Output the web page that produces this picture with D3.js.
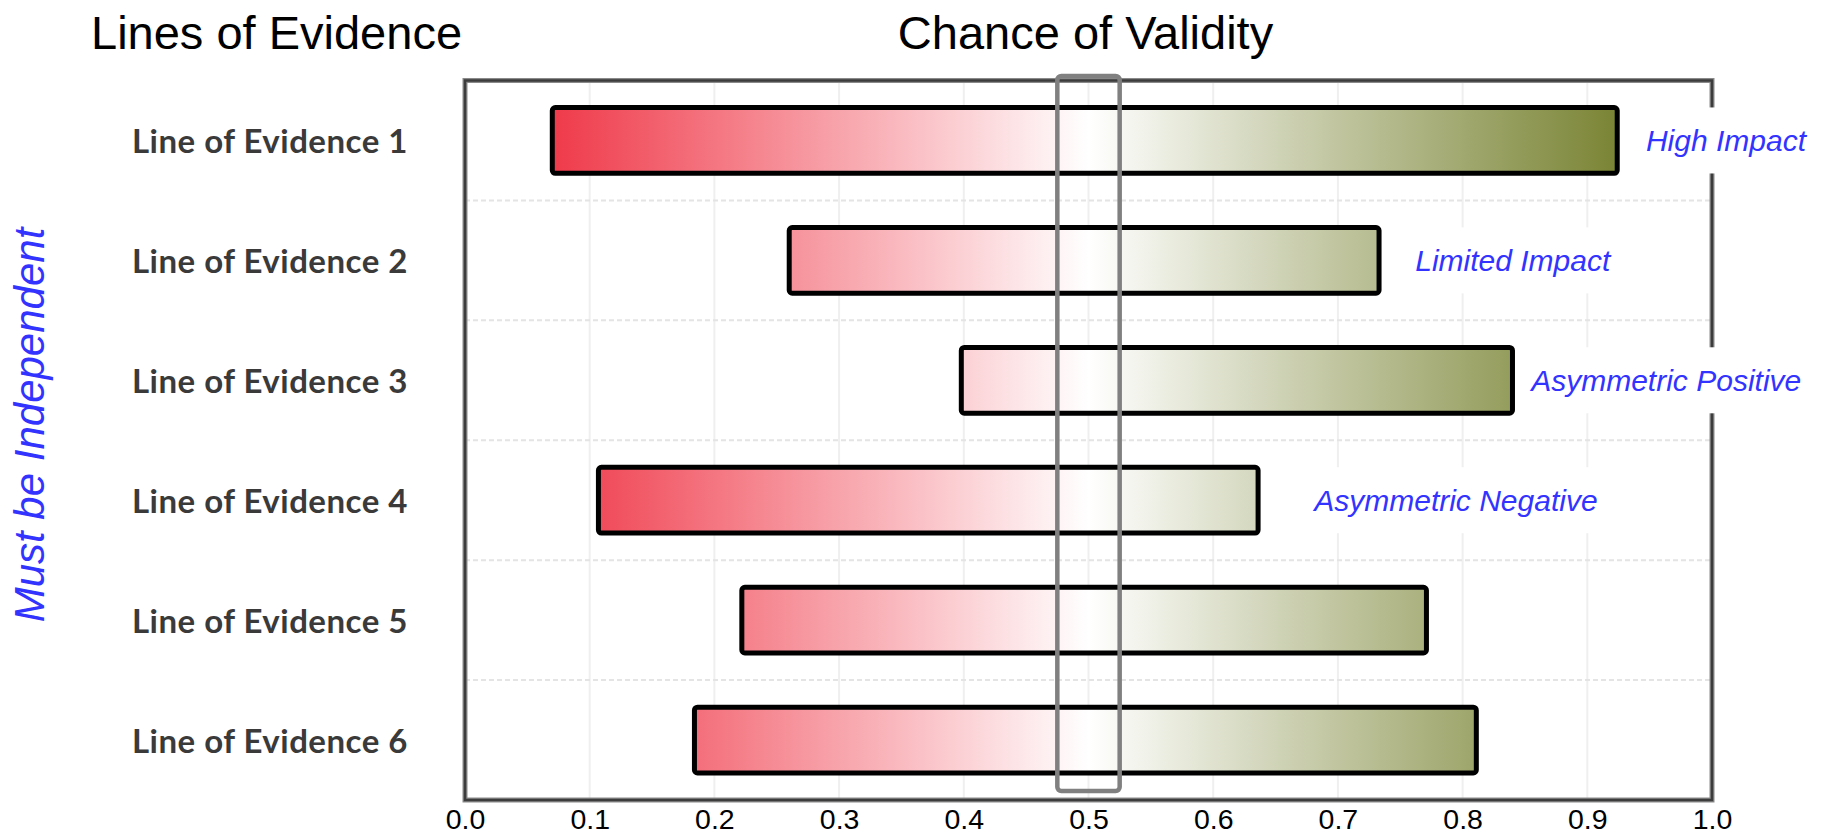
<!DOCTYPE html>
<html>
<head>
<meta charset="utf-8">
<script src="https://cdn.jsdelivr.net/npm/d3@7/dist/d3.min.js"></script>
<style>
  html, body { margin: 0; padding: 0; background: #ffffff; }
  svg { display: block; }
</style>
</head>
<body>
<svg id="chart" width="1828" height="835"></svg>
<script>
// ---- data ----
const categories = ["Line of Evidence 1", "Line of Evidence 2", "Line of Evidence 3",
                    "Line of Evidence 4", "Line of Evidence 5", "Line of Evidence 6"];
const lowValues  = [0.070, 0.260, 0.398, 0.107, 0.222, 0.184];
const highValues = [0.924, 0.733, 0.840, 0.636, 0.771, 0.811];
const xTicks      = [0.0, 0.1, 0.2, 0.3, 0.4, 0.5, 0.6, 0.7, 0.8, 0.9, 1.0];
const xTickLabels = ["0.0", "0.1", "0.2", "0.3", "0.4", "0.5", "0.6", "0.7", "0.8", "0.9", "1.0"];
const annotationTexts = ["High Impact", "Limited Impact", "Asymmetric Positive", "Asymmetric Negative"];
const annotationRows  = ["Line of Evidence 1", "Line of Evidence 2", "Line of Evidence 3", "Line of Evidence 4"];
const annotationX     = [0.947, 0.762, 0.855, 0.681];
const validityBand = [0.475, 0.525];
const gradientOffsets = [0.07, 0.5, 0.925];
const gradientColors  = ["#ef3a4a", "#ffffff", "#7a8434"];
const titleLeft = "Lines of Evidence";
const titleCenter = "Chance of Validity";
const sideLabel = "Must be Independent";

// ---- layout ----
const W = 1828, H = 835;
const plot = { left: 465, right: 1712, top: 80.5, bottom: 800 };
const svg = d3.select("#chart");

const x = d3.scaleLinear().domain([0, 1]).range([plot.left, plot.right]);
const y = d3.scaleBand().domain(categories).range([plot.top, plot.bottom]).paddingInner(0).paddingOuter(0);
const barH = y.bandwidth() * 0.548;

// gradient in data space
const defs = svg.append("defs");
const grad = defs.append("linearGradient")
  .attr("id", "validityGrad")
  .attr("gradientUnits", "userSpaceOnUse")
  .attr("x1", x(0)).attr("x2", x(1)).attr("y1", 0).attr("y2", 0);
grad.selectAll("stop").data(gradientOffsets).join("stop")
  .attr("offset", d => d)
  .attr("stop-color", (d, i) => gradientColors[i]);

// grid
const grid = svg.append("g");
grid.selectAll("line.v").data(xTicks.slice(1, -1)).join("line")
  .attr("class", "v")
  .attr("x1", d => x(d)).attr("x2", d => x(d))
  .attr("y1", plot.top).attr("y2", plot.bottom)
  .attr("stroke", "#efefef").attr("stroke-width", 2);
grid.selectAll("line.h").data(categories.slice(1)).join("line")
  .attr("class", "h")
  .attr("x1", plot.left).attr("x2", plot.right)
  .attr("y1", d => y(d)).attr("y2", d => y(d))
  .attr("stroke", "#e4e4e4").attr("stroke-width", 2)
  .attr("stroke-dasharray", "5,3");

// frame
svg.append("rect")
  .attr("x", plot.left).attr("y", plot.top)
  .attr("width", plot.right - plot.left).attr("height", plot.bottom - plot.top)
  .attr("fill", "none").attr("stroke", "#8a8a8a").attr("stroke-width", 5);
svg.append("rect")
  .attr("x", plot.left).attr("y", plot.top)
  .attr("width", plot.right - plot.left).attr("height", plot.bottom - plot.top)
  .attr("fill", "none").attr("stroke", "#3c3c3c").attr("stroke-width", 2.5);

// bars
svg.append("g").selectAll("rect").data(categories).join("rect")
  .attr("x", (d, i) => x(lowValues[i]))
  .attr("width", (d, i) => x(highValues[i]) - x(lowValues[i]))
  .attr("y", d => y(d) + (y.bandwidth() - barH) / 2)
  .attr("height", barH)
  .attr("rx", 3)
  .attr("fill", "url(#validityGrad)")
  .attr("stroke", "#000").attr("stroke-width", 5);

// validity highlight box
svg.append("rect")
  .attr("x", x(validityBand[0]))
  .attr("width", x(validityBand[1]) - x(validityBand[0]))
  .attr("y", plot.top - 4.5)
  .attr("height", (plot.bottom - 9) - (plot.top - 4.5))
  .attr("rx", 4)
  .attr("fill", "none").attr("stroke", "#808080").attr("stroke-width", 4.5);

// x axis
const xAxis = d3.axisBottom(x).tickValues(xTicks)
  .tickFormat((d, i) => xTickLabels[i]).tickSize(0);
const gx = svg.append("g").attr("transform", `translate(0,${plot.bottom})`).call(xAxis);
gx.select(".domain").remove();
gx.selectAll("text")
  .attr("y", 28.5).attr("dy", 0)
  .attr("font-family", "'Liberation Sans', Arial, sans-serif")
  .attr("font-size", 28.5).attr("fill", "#000");

// y axis labels
const yAxis = d3.axisLeft(y).tickSize(0).tickPadding(57);
const gy = svg.append("g").attr("transform", `translate(${plot.left},0)`).call(yAxis);
gy.select(".domain").remove();
gy.selectAll("text")
  .attr("dy", "0.38em")
  .attr("font-family", "Lato, 'Open Sans', sans-serif")
  .attr("font-weight", 700)
  .attr("letter-spacing", "0.5px")
  .attr("font-size", 33).attr("fill", "#3a3a3a");

// annotations
const ann = svg.append("g").selectAll("g").data(annotationTexts).join("g")
  .attr("transform", (d, i) => `translate(${x(annotationX[i])},${y(annotationRows[i]) + y.bandwidth() / 2})`);
ann.append("rect").attr("class", "bg");
ann.append("text")
  .text(d => d)
  .attr("dy", "0.35em")
  .attr("font-family", "'Liberation Sans', Arial, sans-serif")
  .attr("font-style", "italic")
  .attr("font-size", 30)
  .attr("fill", "#3333ff");
ann.each(function() {
  const g = d3.select(this);
  const bb = g.select("text").node().getBBox();
  g.select("rect.bg")
    .attr("x", bb.x - 2).attr("y", -33)
    .attr("width", bb.width + 6).attr("height", 66)
    .attr("fill", "#ffffff");
});

// titles
svg.append("text").text(titleLeft)
  .attr("x", 91).attr("y", 49)
  .attr("font-family", "'Liberation Sans', Arial, sans-serif")
  .attr("font-size", 47).attr("fill", "#000");
svg.append("text").text(titleCenter)
  .attr("x", (plot.left + plot.right) / 2 - 3).attr("y", 49)
  .attr("text-anchor", "middle")
  .attr("font-family", "'Liberation Sans', Arial, sans-serif")
  .attr("font-size", 47).attr("fill", "#000");

// side label
svg.append("text").text(sideLabel)
  .attr("transform", "translate(44,425) rotate(-90)")
  .attr("text-anchor", "middle")
  .attr("font-family", "'Liberation Sans', Arial, sans-serif")
  .attr("font-style", "italic")
  .attr("font-size", 42).attr("fill", "#3333ff");
</script>
</body>
</html>
